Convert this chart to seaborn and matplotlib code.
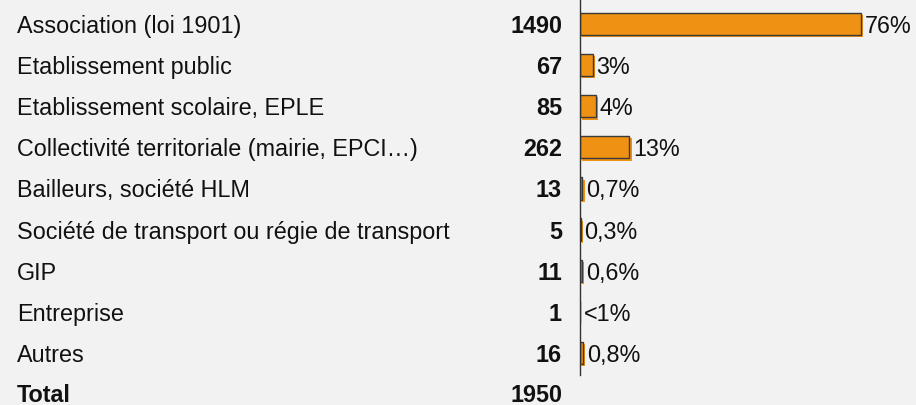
import matplotlib
matplotlib.use("Agg")
import matplotlib.pyplot as plt
import matplotlib.transforms as mtransforms
import matplotlib.patheffects as pe
import seaborn as sns
import pandas as pd

categories = [
    "Association (loi 1901)",
    "Etablissement public",
    "Etablissement scolaire, EPLE",
    "Collectivité territoriale (mairie, EPCI…)",
    "Bailleurs, société HLM",
    "Société de transport ou régie de transport",
    "GIP",
    "Entreprise",
    "Autres",
]
counts = [1490, 67, 85, 262, 13, 5, 11, 1, 16]
pct_labels = ["76%", "3%", "4%", "13%", "0,7%", "0,3%", "0,6%", "<1%", "0,8%"]
total_label = "Total"
total_value = 1950

BG = "#f2f2f2"
BAR = "#ef9213"
EDGE = "#3a3a3a"
FONT = "Liberation Sans"
FS = 16.8

sns.set_theme(style="white")
plt.rcParams["font.family"] = [FONT, "DejaVu Sans"]

W, H = 916, 405
fig = plt.figure(figsize=(W / 100, H / 100), dpi=100, facecolor=BG)
ax_left = 580 / W
ax_bottom = 1 - 375 / H
ax = fig.add_axes([ax_left, ax_bottom, 1 - ax_left, 1 - ax_bottom])
ax.set_facecolor(BG)

df = pd.DataFrame({"cat": categories, "n": counts})
sns.barplot(data=df, x="n", y="cat", orient="h", color=BAR, saturation=1,
            width=0.54, edgecolor=EDGE, linewidth=1.0, ax=ax)

for p in ax.patches:
    p.set_path_effects([pe.SimplePatchShadow(offset=(1.6, -1.6), shadow_rgbFace=BAR, alpha=1.0),
                        pe.Normal()])

px_per_unit = 281 / 1490
ax.set_xlim(0, (W - 580) / px_per_unit)
spacing = (394 - 24) / 9
ax.set_ylim((375 - 24) / spacing, -24 / spacing)

for s in ["top", "right", "bottom"]:
    ax.spines[s].set_visible(False)
ax.spines["left"].set_color("#333333")
ax.spines["left"].set_linewidth(1.0)
ax.set_xticks([])
ax.set_yticks([])
ax.set_xlabel("")
ax.set_ylabel("")

trans = mtransforms.blended_transform_factory(fig.transFigure, ax.transData)
for i, (c, n, pl) in enumerate(zip(categories, counts, pct_labels)):
    ax.text(17 / W, i, c, transform=trans, ha="left", va="center_baseline",
            fontsize=FS, color="#111111", clip_on=False)
    ax.text(562 / W, i, str(n), transform=trans, ha="right", va="center_baseline",
            fontsize=FS, fontweight="bold", color="#111111", clip_on=False)
    ax.annotate(pl, xy=(n, i), xytext=(2.6, 0), textcoords="offset points",
                ha="left", va="center_baseline", fontsize=FS, color="#111111",
                annotation_clip=False)

ti = len(categories)
ax.text(17 / W, ti - 0.02, total_label, transform=trans, ha="left", va="center_baseline",
        fontsize=FS, fontweight="bold", color="#111111", clip_on=False)
ax.text(562 / W, ti - 0.02, str(total_value), transform=trans, ha="right", va="center_baseline",
        fontsize=FS, fontweight="bold", color="#111111", clip_on=False)

fig.savefig("out.png", dpi=100, facecolor=BG)
